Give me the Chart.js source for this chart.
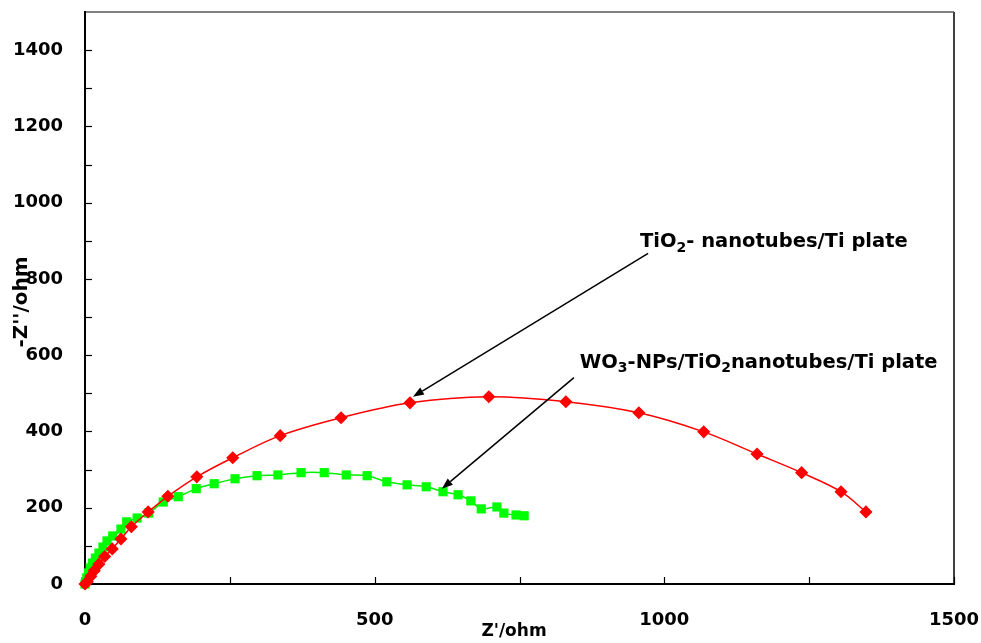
<!DOCTYPE html>
<html><head><meta charset="utf-8">
<script src="https://cdn.jsdelivr.net/npm/chart.js@4/dist/chart.umd.min.js"></script>
<style>html,body{margin:0;padding:0;background:#fff;}#wrap{width:981px;height:643px;position:relative;}</style>
</head><body><div id="wrap"><canvas id="c"></canvas></div>
<script>
// ---- data ----
const seriesNames = ['TiO2- nanotubes/Ti plate', 'WO3-NPs/TiO2nanotubes/Ti plate'];
const tio2X = [0, 4, 10, 16, 24, 34, 47, 62, 80, 109, 143, 193, 255, 337, 442, 561, 697, 830, 956, 1068, 1160, 1237, 1305, 1348];
const tio2Y = [0, 6, 20, 35, 52, 72, 92, 118, 150, 189, 230, 281, 331, 389, 436, 475, 491, 478, 449, 399, 341, 292, 242, 189];
const wo3X = [0, 1, 3, 6, 9, 13, 18, 24, 31, 38, 48, 62, 72, 90, 110, 135, 161, 192, 223, 259, 297, 333, 373, 413, 451, 487, 521, 556, 589, 618, 644, 666, 684, 711, 723, 744, 758];
const wo3Y = [0, 6, 16, 29, 42, 55, 68, 81, 97, 113, 126, 144, 163, 173, 186, 215, 229, 250, 263, 276, 284, 286, 292, 292, 286, 284, 268, 260, 255, 242, 234, 218, 197, 202, 186, 181, 179];
const xTickValues = [0, 500, 1000, 1500];
const xMinorTickValues = [250, 750, 1250];
const yTickValues = [0, 200, 400, 600, 800, 1000, 1200, 1400];
const yMinorTickValues = [100, 300, 500, 700, 900, 1100, 1300];
const xTitle = "Z'/ohm";
const yTitle = "-Z''/ohm";
// annotation labels: [text, isSubscript]
const label1Parts = [['TiO', 0], ['2', 1], ['- nanotubes/Ti plate', 0]];
const label2Parts = [['WO', 0], ['3', 1], ['-NPs/TiO', 0], ['2', 1], ['nanotubes/Ti plate', 0]];
// annotation anchors in data units: [x, y]
const label1At = [958, 896];
const label2At = [854, 580];
const arrow1 = [[972, 867], [566, 491]];
const arrow2 = [[844, 541], [616, 250]];

const FONT = 'DejaVu Sans';
const toPts = (xs, ys) => xs.map((x, i) => ({x: x, y: ys[i]}));

function drawRich(ctx, parts, x, yMid, size) {
  let cx = x;
  ctx.textBaseline = 'middle';
  ctx.textAlign = 'left';
  for (const [t, sub] of parts) {
    const s = sub ? Math.round(size * 0.7) : size;
    ctx.font = 'bold ' + s + 'px "' + FONT + '"';
    ctx.fillText(t, cx, sub ? yMid + size * 0.3 : yMid);
    cx += ctx.measureText(t).width;
  }
}
function drawArrow(ctx, x1, y1, x2, y2) {
  ctx.beginPath(); ctx.moveTo(x1, y1);
  const a = Math.atan2(y2 - y1, x2 - x1);
  const L = 11, W = 4;
  const bx = x2 - L * Math.cos(a), by = y2 - L * Math.sin(a);
  ctx.lineTo(bx, by); ctx.stroke();
  ctx.beginPath();
  ctx.moveTo(x2, y2);
  ctx.lineTo(bx + W * Math.sin(a), by - W * Math.cos(a));
  ctx.lineTo(bx - W * Math.sin(a), by + W * Math.cos(a));
  ctx.closePath(); ctx.fill();
}
function noPad(s) { s.paddingTop = 0; s.paddingBottom = 0; s.paddingLeft = 0; s.paddingRight = 0; }

const framePlugin = {
  id: 'frame',
  beforeDatasetsDraw(chart) {
    const {ctx, chartArea: a, scales} = chart;
    ctx.save();
    ctx.lineWidth = 2;
    ctx.strokeStyle = '#808080';
    ctx.beginPath(); ctx.moveTo(a.left, a.top); ctx.lineTo(a.right, a.top); ctx.stroke();
    ctx.strokeStyle = '#404040';
    ctx.beginPath(); ctx.moveTo(a.right, a.top); ctx.lineTo(a.right, a.bottom); ctx.stroke();
    ctx.strokeStyle = '#000';
    ctx.beginPath(); ctx.moveTo(a.left, a.top - 1); ctx.lineTo(a.left, a.bottom); ctx.lineTo(a.right + 1, a.bottom); ctx.stroke();
    ctx.lineWidth = 1.2;
    const T = 7;
    for (const v of yTickValues.concat(yMinorTickValues)) {
      const y = Math.round(scales.y.getPixelForValue(v)) + 0.5;
      ctx.beginPath(); ctx.moveTo(a.left, y); ctx.lineTo(a.left + T, y); ctx.stroke();
    }
    for (const v of xTickValues.concat(xMinorTickValues)) {
      const x = Math.round(scales.x.getPixelForValue(v)) + 0.5;
      ctx.beginPath(); ctx.moveTo(x, a.bottom); ctx.lineTo(x, a.bottom - T); ctx.stroke();
    }
    ctx.restore();
  },
  afterDraw(chart) {
    const {ctx, chartArea: a, scales} = chart;
    const X = v => scales.x.getPixelForValue(v), Y = v => scales.y.getPixelForValue(v);
    ctx.save();
    ctx.fillStyle = '#000';
    ctx.font = 'bold 17px "' + FONT + '"';
    ctx.textAlign = 'center'; ctx.textBaseline = 'middle';
    ctx.fillText(xTitle, 514, 632);
    ctx.save();
    ctx.font = 'bold 20px "' + FONT + '"';
    ctx.translate(22, 302); ctx.rotate(-Math.PI / 2);
    ctx.fillText(yTitle, 0, 0);
    ctx.restore();
    drawRich(ctx, label1Parts, X(label1At[0]), Y(label1At[1]), 19.5);
    drawRich(ctx, label2Parts, X(label2At[0]), Y(label2At[1]), 19.5);
    ctx.strokeStyle = '#000'; ctx.fillStyle = '#000'; ctx.lineWidth = 1.5;
    for (const ar of [arrow1, arrow2]) drawArrow(ctx, X(ar[0][0]), Y(ar[0][1]), X(ar[1][0]), Y(ar[1][1]));
    ctx.restore();
  }
};

new Chart(document.getElementById('c'), {
  type: 'scatter',
  data: {
    datasets: [
      {label: seriesNames[0], data: toPts(tio2X, tio2Y), showLine: true, borderColor: '#FF0000', backgroundColor: '#FF0000',
       borderWidth: 1.5, pointStyle: 'rectRot', pointRadius: 5.5, pointHoverRadius: 5.5, tension: 0.35, clip: false},
      {label: seriesNames[1], data: toPts(wo3X, wo3Y), showLine: true, borderColor: '#00EE00', backgroundColor: '#00FF00',
       borderWidth: 1.5, pointStyle: 'rect', pointRadius: 6.5, pointHoverRadius: 6.5, pointBorderWidth: 0, tension: 0.3, clip: false}
    ]
  },
  options: {
    responsive: true, maintainAspectRatio: false, animation: false, devicePixelRatio: 1,
    layout: {padding: {top: 12, right: 27, left: 0, bottom: 0}},
    plugins: {legend: {display: false}, tooltip: {enabled: false}},
    scales: {
      x: {type: 'linear', min: 0, max: 1500,
          afterBuildTicks: s => { s.ticks = xTickValues.map(v => ({value: v})); },
          afterFit: s => { s.height = 59; noPad(s); },
          grid: {display: false, drawTicks: false}, border: {display: false},
          ticks: {padding: 26, color: '#000', callback: v => String(v), font: {family: FONT, size: 18, weight: 'bold'}, maxRotation: 0}},
      y: {type: 'linear', min: 0, max: 1500,
          afterBuildTicks: s => { s.ticks = yTickValues.map(v => ({value: v})); },
          afterFit: s => { s.width = 85; noPad(s); },
          grid: {display: false, drawTicks: false}, border: {display: false},
          ticks: {padding: 22, color: '#000', callback: v => String(v), font: {family: FONT, size: 18, weight: 'bold'}}}
    }
  },
  plugins: [framePlugin]
});
</script></body></html>
